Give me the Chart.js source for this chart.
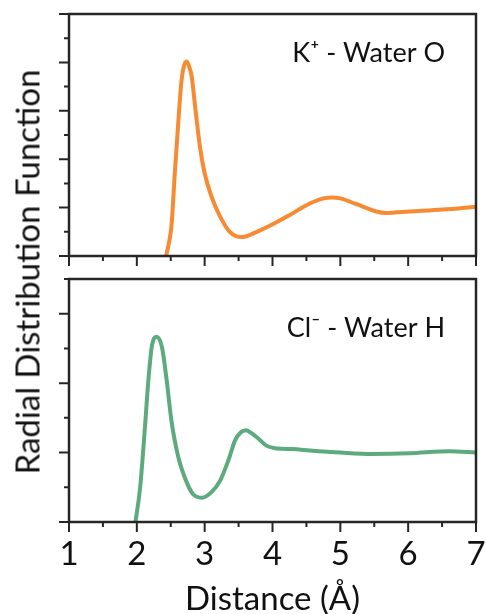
<!DOCTYPE html>
<html>
<head>
<meta charset="utf-8">
<script src="https://cdn.jsdelivr.net/npm/chart.js@4.4.0/dist/chart.umd.min.js"></script>
<style>
  html, body { margin: 0; padding: 0; background: #fff; }
  #wrap { position: relative; width: 486px; height: 614px; overflow: hidden; }
  #topChart { position: absolute; left: 0; top: 0; }
  #bottomChart { position: absolute; left: 0; top: 270px; }
  #yTitle {
    position: absolute; left: 26.5px; top: 272px;
    transform: translate(-50%, -50%) rotate(-90deg);
    font: 33px Lato; line-height: 1; white-space: nowrap; color: #111;
  }
</style>
</head>
<body>
<div id="wrap">
  <canvas id="topChart" width="486" height="270"></canvas>
  <canvas id="bottomChart" width="486" height="344"></canvas>
  <div id="yTitle">Radial Distribution Function</div>
</div>
<script>
// x axis (Distance, Å)
const xTickValues = [1, 2, 3, 4, 5, 6, 7];
const xMinorValues = [1.5, 2.5, 3.5, 4.5, 5.5, 6.5];

// K+ - Water O
const kDist = [2.43, 2.47, 2.51, 2.56, 2.61, 2.66, 2.70, 2.735, 2.77, 2.81, 2.86, 2.93, 3.00, 3.10, 3.23, 3.37, 3.55, 3.77, 4.01, 4.26, 4.50, 4.75, 4.88, 5.00, 5.24, 5.53, 5.68, 6.02, 6.51, 7.00];
const kRdf  = [0.00, 0.25, 0.61, 1.71, 2.74, 3.64, 3.95, 4.02, 3.92, 3.70, 3.08, 2.26, 1.71, 1.23, 0.81, 0.50, 0.39, 0.50, 0.66, 0.85, 1.05, 1.19, 1.21, 1.19, 1.07, 0.92, 0.89, 0.92, 0.96, 1.02];
const kYMajor = [0, 1, 2, 3, 4, 5];
const kYMinor = [0.5, 1.5, 2.5, 3.5, 4.5];

// Cl- - Water H
const clDist = [1.98, 2.05, 2.12, 2.17, 2.22, 2.29, 2.37, 2.44, 2.51, 2.61, 2.74, 2.83, 2.96, 3.10, 3.23, 3.35, 3.45, 3.53, 3.61, 3.69, 3.77, 3.91, 4.06, 4.30, 4.55, 5.00, 5.46, 6.02, 6.61, 7.00];
const clRdf  = [0.00, 0.51, 1.37, 2.04, 2.52, 2.67, 2.52, 2.04, 1.46, 0.94, 0.56, 0.40, 0.35, 0.43, 0.60, 0.89, 1.18, 1.29, 1.32, 1.28, 1.22, 1.10, 1.06, 1.05, 1.03, 1.00, 0.98, 0.99, 1.02, 1.00];
const clYMajor = [0, 1, 2, 3];
const clYMinor = [0.5, 1.5, 2.5, 3.5];

Chart.defaults.font.family = 'Lato';
Chart.defaults.color = '#111';

// box, outward tick marks and panel label
const framePlugin = {
  id: 'frame',
  afterDraw(chart, args, opts) {
    const { ctx, chartArea: a } = chart;
    const x = chart.scales.x, y = chart.scales.y;
    ctx.save();
    ctx.strokeStyle = '#262626';
    ctx.lineWidth = 2;
    ctx.beginPath();
    opts.yMajor.forEach(v => { const p = y.getPixelForValue(v); ctx.moveTo(a.left, p); ctx.lineTo(a.left - 10, p); });
    opts.yMinor.forEach(v => { const p = y.getPixelForValue(v); ctx.moveTo(a.left, p); ctx.lineTo(a.left - 5, p); });
    xTickValues.forEach(v => { const p = x.getPixelForValue(v); ctx.moveTo(p, a.bottom); ctx.lineTo(p, a.bottom + 10); });
    xMinorValues.forEach(v => { const p = x.getPixelForValue(v); ctx.moveTo(p, a.bottom); ctx.lineTo(p, a.bottom + 5); });
    ctx.stroke();
    ctx.lineWidth = 2.5;
    ctx.strokeRect(a.left, a.top, a.right - a.left, a.bottom - a.top);
    ctx.font = '27px Lato';
    ctx.fillStyle = '#111';
    ctx.textAlign = 'right';
    ctx.textBaseline = 'alphabetic';
    ctx.fillText(opts.label, opts.labelX, opts.labelY);
    ctx.restore();
  }
};

function makeChart(id, xs, ys, color, yMax, yMajor, yMinor, label, labelY, padTop, xHeight, showX) {
  return new Chart(document.getElementById(id), {
    type: 'line',
    data: {
      datasets: [{
        data: xs.map((d, i) => ({ x: d, y: ys[i] })),
        borderColor: color,
        borderWidth: 4,
        pointRadius: 0,
        cubicInterpolationMode: 'monotone',
        fill: false
      }]
    },
    options: {
      responsive: false,
      animation: false,
      events: [],
      layout: { padding: { top: padTop, right: 10, left: 0, bottom: 0 } },
      plugins: {
        legend: { display: false },
        tooltip: { enabled: false },
        frame: { yMajor: yMajor, yMinor: yMinor, label: label, labelX: 445, labelY: labelY }
      },
      scales: {
        x: {
          type: 'linear', min: 1, max: 7,
          grid: { display: false, drawTicks: false },
          border: { display: false },
          afterBuildTicks: s => { s.ticks = xTickValues.map(v => ({ value: v })); },
          ticks: { display: showX, font: { size: 33, lineHeight: 1 }, color: '#111', padding: 16, autoSkip: false, maxRotation: 0 },
          title: { display: showX, text: 'Distance (Å)', font: { size: 33, lineHeight: 1 }, color: '#111', padding: { top: 0, bottom: -2 } },
          afterFit: s => { s.height = xHeight; s.paddingLeft = 0; s.paddingRight = 0; }
        },
        y: {
          min: 0, max: yMax,
          grid: { display: false, drawTicks: false },
          border: { display: false },
          ticks: { display: false },
          afterFit: s => { s.width = 69; }
        }
      }
    },
    plugins: [framePlugin]
  });
}

makeChart('topChart', kDist, kRdf, '#F68B33', 5, kYMajor, kYMinor, 'K⁺ - Water O', 62, 14, 14, false);
makeChart('bottomChart', clDist, clRdf, '#5DAA7E', 3.5, clYMajor, clYMinor, 'Cl⁻ - Water H', 67, 9, 92, true);
</script>
</body>
</html>
